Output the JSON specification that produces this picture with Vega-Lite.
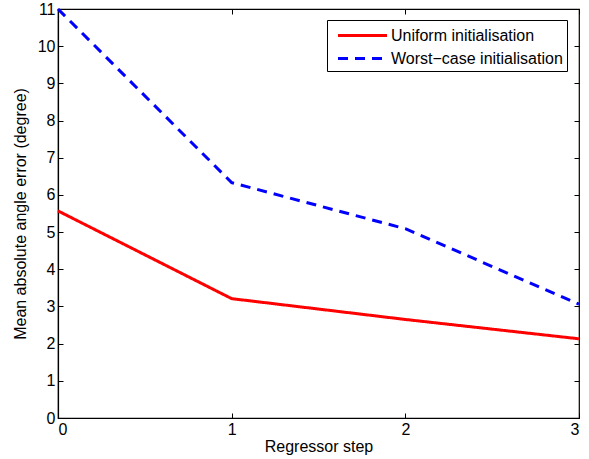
{
  "$schema": "https://vega.github.io/schema/vega-lite/v6.json",
  "autosize": {"type": "none"},
  "padding": {"left": 58, "top": 9, "right": 10, "bottom": 41},
  "width": 521,
  "height": 409,
  "background": "white",
  "config": {
    "font": "Liberation Sans",
    "view": {"stroke": "black", "strokeWidth": 1.2},
    "axis": {"grid": false, "domainColor": "black", "tickColor": "black", "labelColor": "black", "titleColor": "black", "labelFontSize": 16, "titleFontSize": 16, "titleFontWeight": "normal", "tickSize": -5, "domainWidth": 1.2}
  },
  "data": {"values": [
    {"step": 0, "err": 5.57, "series": "Uniform initialisation"},
    {"step": 1, "err": 3.21, "series": "Uniform initialisation"},
    {"step": 2, "err": 2.65, "series": "Uniform initialisation"},
    {"step": 3, "err": 2.13, "series": "Uniform initialisation"},
    {"step": 0, "err": 11.0, "series": "Worst−case initialisation"},
    {"step": 1, "err": 6.33, "series": "Worst−case initialisation"},
    {"step": 2, "err": 5.09, "series": "Worst−case initialisation"},
    {"step": 3, "err": 3.06, "series": "Worst−case initialisation"}
  ]},
  "layer": [
    {
      "mark": {"type": "line", "strokeWidth": 3},
      "encoding": {
        "x": {"field": "step", "type": "quantitative", "scale": {"domain": [0, 3], "nice": false}, "axis": {"title": "Regressor step", "values": [0, 1, 2, 3], "format": "d", "labelPadding": 8, "titlePadding": 1}},
        "y": {"field": "err", "type": "quantitative", "scale": {"domain": [0, 11], "nice": false}, "axis": {"title": "Mean absolute angle error (degree)", "values": [0,1,2,3,4,5,6,7,8,9,10,11], "labelPadding": 8, "titlePadding": 9}},
        "color": {"field": "series", "type": "nominal", "scale": {"domain": ["Uniform initialisation", "Worst−case initialisation"], "range": ["#ff0000", "#0000ff"]},
          "legend": {"title": null, "orient": "none", "legendX": 269, "legendY": 11, "strokeColor": "black", "fillColor": "white", "padding": 4, "labelFontSize": 16, "labelColor": "black", "labelLimit": 300, "symbolType": "M-2.5,0H2.5", "symbolSize": 384, "symbolStrokeWidth": 3, "symbolOffset": 20, "rowPadding": 3, "labelOffset": 17}},
        "strokeDash": {"field": "series", "type": "nominal", "scale": {"domain": ["Uniform initialisation", "Worst−case initialisation"], "range": [[1, 0], [10, 7]]}, "legend": null}
      }
    },
    {
      "mark": {"type": "line", "opacity": 0},
      "encoding": {
        "x": {"field": "step", "type": "quantitative", "axis": {"orient": "top", "labels": false, "title": null, "values": [0, 1, 2, 3], "domain": false}},
        "y": {"field": "err", "type": "quantitative", "axis": {"orient": "right", "labels": false, "title": null, "values": [0,1,2,3,4,5,6,7,8,9,10,11], "domain": false}}
      }
    }
  ],
  "resolve": {"axis": {"x": "independent", "y": "independent"}}
}
